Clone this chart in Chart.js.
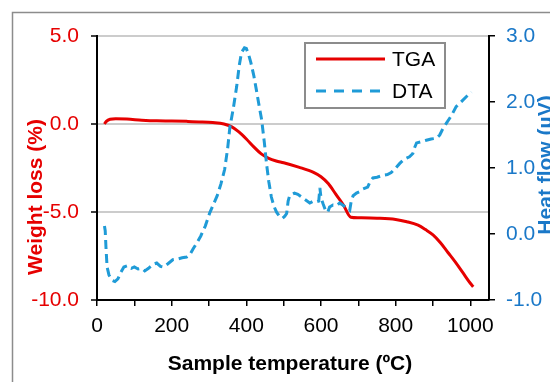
<!DOCTYPE html>
<html>
<head>
<meta charset="utf-8">
<script src="https://cdn.jsdelivr.net/npm/chart.js@4"></script>
<style>
  body { margin: 0; background: #fff; }
  canvas { display: block; }
</style>
</head>
<body>
<canvas id="taChart" width="550" height="382"></canvas>
<script>
// TGA curve (left axis, weight loss %)
const tgaTemp = [20, 25, 35, 50, 80, 120, 160, 200, 240, 280, 310, 340, 360, 380, 400, 420, 440, 460, 480, 500,
    540, 580, 600, 620, 640, 660, 680, 700, 750, 800, 830, 860, 880, 900, 920, 940, 960, 980, 1000, 1008];
const tgaWeight = [0.0, 0.15, 0.27, 0.3, 0.28, 0.22, 0.18, 0.17, 0.15, 0.12, 0.08, 0.0, -0.15, -0.45, -0.85, -1.3, -1.7, -1.95, -2.1, -2.2,
    -2.45, -2.75, -3.0, -3.4, -4.0, -4.6, -5.3, -5.33, -5.35, -5.42, -5.55, -5.75, -6.0, -6.3, -6.75, -7.3, -7.85, -8.45, -9.05, -9.25];

// DTA curve (right axis, heat flow uV)
const dtaTemp = [20, 22, 24, 27, 32, 40, 48, 56, 64, 72, 82, 92, 100, 110, 120, 128, 138, 150, 160, 170,
    178, 190, 203, 215, 228, 240, 250, 258, 268, 278, 290, 302, 312, 322, 332, 342, 350, 356, 365, 374,
    381, 387, 395, 400, 406, 412, 420, 427, 434, 441, 448, 454, 460, 467, 474, 481, 490, 497, 503, 508,
    512, 516, 522, 529, 538, 548, 558, 570, 580, 588, 594, 597, 600, 606, 612, 618, 623, 632, 642, 650,
    658, 668, 677, 681, 686, 695, 703, 712, 725, 732, 739, 750, 766, 778, 788, 800, 811, 822, 837, 846,
    850, 856, 870, 882, 895, 909, 918, 925, 936, 950, 962, 975, 989, 1003];
const dtaHeat = [0.12, 0.05, -0.2, -0.5, -0.62, -0.7, -0.72, -0.68, -0.58, -0.5, -0.48, -0.52, -0.5, -0.53, -0.52, -0.56, -0.52, -0.46, -0.44, -0.49,
    -0.5, -0.45, -0.39, -0.38, -0.36, -0.35, -0.3, -0.22, -0.13, -0.03, 0.12, 0.32, 0.45, 0.58, 0.76, 0.98, 1.3, 1.62, 1.9, 2.23,
    2.55, 2.75, 2.82, 2.81, 2.72, 2.6, 2.4, 2.18, 1.95, 1.73, 1.4, 1.07, 0.8, 0.56, 0.42, 0.33, 0.26, 0.24, 0.27, 0.31,
    0.5, 0.58, 0.6, 0.62, 0.6, 0.56, 0.52, 0.47, 0.5, 0.49, 0.5, 0.7, 0.55, 0.45, 0.36, 0.33, 0.41, 0.44, 0.43, 0.47,
    0.44, 0.4, 0.36, 0.5, 0.58, 0.62, 0.64, 0.68, 0.71, 0.8, 0.85, 0.86, 0.89, 0.9, 0.93, 1.0, 1.07, 1.13, 1.17, 1.22,
    1.3, 1.38, 1.4, 1.42, 1.44, 1.45, 1.5, 1.58, 1.68, 1.8, 1.93, 2.0, 2.08, 2.15];

// x ticks every 100, labels every 200
const xTicks = [0, 100, 200, 300, 400, 500, 600, 700, 800, 900, 1000];

const RED = '#e60000';
const BLUE = '#1f9bd7';
const BLUE_TXT = '#1a78c8';
const FONT = 'Arial, "Liberation Sans", sans-serif';

// border, axis titles and the boxed legend
const decorations = {
    id: 'decorations',
    afterDraw(chart) {
        const c = chart.ctx;
        c.save();
        c.strokeStyle = '#8c8c8c';
        c.lineWidth = 1.5;
        c.strokeRect(12.5, 12.5, 600, 420);

        c.font = 'bold 21px ' + FONT;
        c.textAlign = 'center';
        c.textBaseline = 'middle';
        c.fillStyle = '#000';
        c.fillText('Sample temperature (ºC)', 290, 364);

        c.save();
        c.translate(36, 197);
        c.rotate(-Math.PI / 2);
        c.fillStyle = RED;
        c.fillText('Weight loss (%)', 0, 0);
        c.restore();

        c.save();
        c.translate(546, 165);
        c.rotate(-Math.PI / 2);
        c.fillStyle = BLUE_TXT;
        c.fillText('Heat flow (µV)', 0, 0);
        c.restore();

        // legend
        c.fillStyle = '#fff';
        c.fillRect(305, 43, 140, 65);
        c.strokeStyle = '#8c8c8c';
        c.lineWidth = 2;
        c.strokeRect(305, 43, 140, 65);
        c.lineWidth = 3;
        c.strokeStyle = RED;
        c.beginPath(); c.moveTo(316, 59); c.lineTo(385, 59); c.stroke();
        c.strokeStyle = BLUE;
        c.setLineDash([10, 8]);
        c.beginPath(); c.moveTo(316, 91); c.lineTo(385, 91); c.stroke();
        c.setLineDash([]);
        c.fillStyle = '#000';
        c.font = '21px ' + FONT;
        c.textAlign = 'left';
        c.fillText('TGA', 392, 60);
        c.fillText('DTA', 392, 92);
        c.restore();
    }
};

const ctx = document.getElementById('taChart').getContext('2d');
new Chart(ctx, {
    type: 'line',
    data: {
        datasets: [{
            label: 'TGA',
            data: tgaTemp.map((t, i) => ({ x: t, y: tgaWeight[i] })),
            yAxisID: 'y',
            borderColor: RED,
            borderWidth: 3,
            pointRadius: 0,
            cubicInterpolationMode: 'monotone',
            order: 1
        }, {
            label: 'DTA',
            data: dtaTemp.map((t, i) => ({ x: t, y: dtaHeat[i] })),
            yAxisID: 'y1',
            borderColor: BLUE,
            borderWidth: 3,
            borderDash: [9, 5],
            pointRadius: 0,
            tension: 0,
            order: 0
        }]
    },
    options: {
        responsive: false,
        animation: false,
        layout: { padding: { top: 36 } },
        plugins: {
            legend: { display: false },
            tooltip: { enabled: false }
        },
        scales: {
            x: {
                type: 'linear',
                min: 0,
                max: 1050,
                afterFit: s => { s.height = 82; },
                afterBuildTicks: s => { s.ticks = xTicks.map(v => ({ value: v })); },
                ticks: {
                    autoSkip: false,
                    maxRotation: 0,
                    padding: 8,
                    color: '#000',
                    font: { size: 21, family: FONT },
                    callback: v => (v % 200 === 0 ? String(v) : '')
                },
                grid: { drawOnChartArea: false, tickLength: 6, color: '#000', lineWidth: 1.5 },
                border: { color: '#000', width: 2 }
            },
            y: {
                position: 'left',
                min: -10,
                max: 5,
                afterFit: s => { s.width = 97; },
                ticks: {
                    stepSize: 5,
                    padding: 12,
                    color: RED,
                    font: { size: 21, family: FONT },
                    callback: v => v.toFixed(1)
                },
                grid: { color: '#cccccc', lineWidth: 2, tickLength: 6, tickColor: '#000', tickWidth: 1.5 },
                border: { color: '#000', width: 2 }
            },
            y1: {
                position: 'right',
                min: -1,
                max: 3,
                afterFit: s => { s.width = 61; },
                ticks: {
                    stepSize: 1,
                    padding: 11,
                    color: BLUE_TXT,
                    font: { size: 21, family: FONT },
                    callback: v => v.toFixed(1)
                },
                grid: { drawOnChartArea: false, tickLength: 6, color: '#000', lineWidth: 1.5 },
                border: { color: '#000', width: 2 }
            }
        }
    },
    plugins: [decorations]
});
</script>
</body>
</html>
